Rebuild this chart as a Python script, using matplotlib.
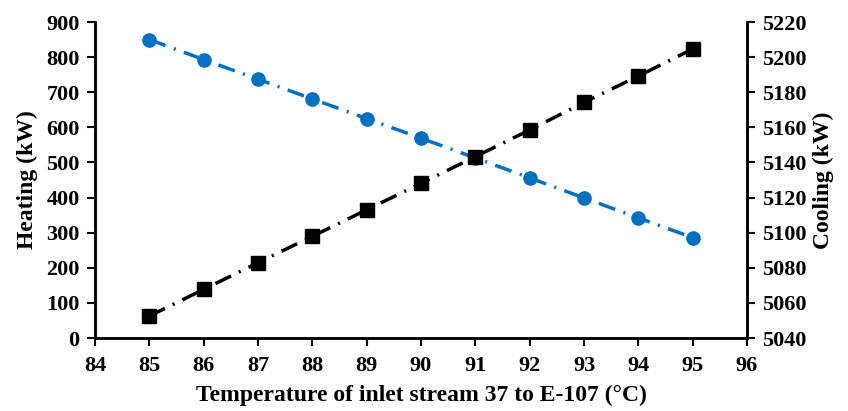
import matplotlib
matplotlib.use("Agg")
import matplotlib.pyplot as plt

temps = [85, 86, 87, 88, 89, 90, 91, 92, 93, 94, 95]
heating = [850, 793, 737, 681, 625, 569, 513, 456, 399, 342, 286]
cooling = [5052.5, 5067.7, 5082.9, 5097.9, 5113.0, 5128.1, 5143.3, 5158.5, 5174.2, 5189.2, 5204.6]

plt.rcParams['font.family'] = ['Liberation Serif', 'DejaVu Serif']
plt.rcParams['font.weight'] = 'bold'

fig = plt.figure(figsize=(8.48, 4.11), dpi=100)
ax = fig.add_axes([95/848, 1-338/411, (747-95)/848, (338-22)/411])
ax2 = ax.twinx()

ls = (0, (5, 2.5, 0.6, 2.5))
ax.plot(temps, heating, color='#0070C0', linestyle=ls, linewidth=2.5,
        marker='o', markersize=9.5, zorder=3)
ax2.plot(temps, cooling, color='black', linestyle=ls, linewidth=2.5,
         marker='s', markersize=9.5, zorder=3)

ax.set_xlim(84, 96)
ax.set_ylim(0, 900)
ax2.set_ylim(5040, 5220)
ax.set_xticks(range(84, 97))
ax.set_yticks(range(0, 901, 100))
ax2.set_yticks(range(5040, 5221, 20))

for a in (ax, ax2):
    a.spines['top'].set_visible(False)
    for s in a.spines.values():
        s.set_linewidth(1.8)
    a.tick_params(direction='out', width=1.5, length=6, labelsize=16, pad=5)
    for lab in a.get_xticklabels() + a.get_yticklabels():
        lab.set_fontweight('bold')
ax.tick_params(axis='x', pad=7)

ax.set_xlabel('Temperature of inlet stream 37 to E-107 (°C)', fontsize=17, fontweight='bold', labelpad=6)
ax.set_ylabel('Heating (kW)', fontsize=17, fontweight='bold', labelpad=6)
ax2.set_ylabel('Cooling (kW)', fontsize=17, fontweight='bold', labelpad=4)

fig.savefig('out.png', dpi=100)
